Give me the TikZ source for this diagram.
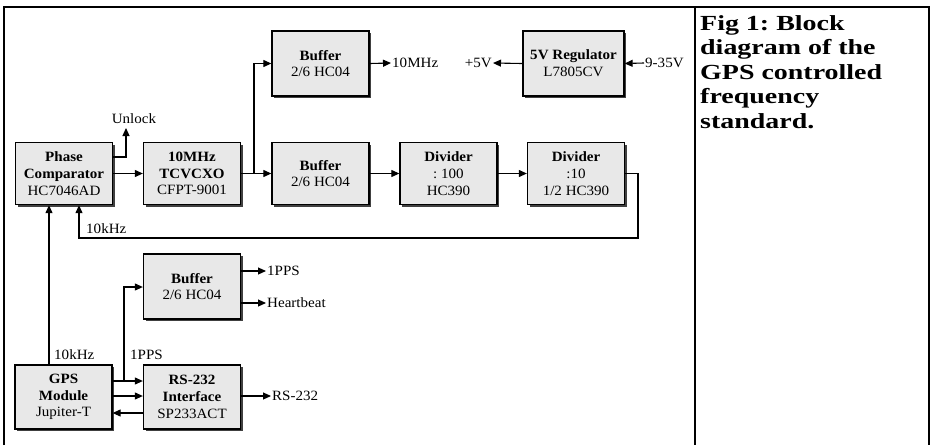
\documentclass[tikz,border=0pt]{standalone}
\usepackage{fontspec}
\setmainfont[FakeStretch=1.06]{Liberation Serif}
\newfontfamily\capfont[FakeStretch=1.3]{Liberation Serif}
\usetikzlibrary{arrows.meta,shadows}
\frenchspacing
\begin{document}
\begin{tikzpicture}[x=1pt,y=-1pt,
  blk/.style={draw, line width=1.3pt, fill=black!9, align=center,
    inner sep=0pt, minimum width=97pt, minimum height=62pt,
    font=\fontsize{14.2}{16.8}\selectfont,
    drop shadow={shadow xshift=2.2pt, shadow yshift=-2.2pt, fill=black!75, opacity=1}},
  tall/.style={minimum height=65pt},
  conn/.style={line width=1.1pt},
  arr/.style={conn, -{Triangle[length=8pt,width=7pt]}},
  lbl/.style={font=\fontsize{14.2}{16}\selectfont, inner sep=1pt},
  frame/.style={line width=2.6pt}
]
\useasboundingbox (0,0) rectangle (932,445);
% frame
\draw[frame] (4,445) -- (4,7) -- (929,7) -- (929,445);
\draw[frame] (695,7) -- (695,445);
% caption
\node[anchor=north west, inner sep=0pt, align=left,
  font=\capfont\bfseries\fontsize{21.5}{24.5}\selectfont] (cap) at (700,15)
  {Fig 1: Block\\diagram of the\\GPS controlled\\frequency\\standard.};

% blocks
\node[blk] (phase) at (64,173.5) {\textbf{Phase}\\\textbf{Comparator}\\HC7046AD};
\node[blk] (tcxo) at (192,173.5) {\textbf{10MHz}\\\textbf{TCVCXO}\\CFPT-9001};
\node[blk,tall] (buf1) at (320.5,63.5) {\textbf{Buffer}\\2/6 HC04};
\node[blk] (buf2) at (320.5,173.5) {\textbf{Buffer}\\2/6 HC04};
\node[blk] (div100) at (448.5,173.5) {\textbf{Divider}\\: 100\\HC390};
\node[blk] (div10) at (576,173.5) {\textbf{Divider}\\:10\\1/2 HC390};
\node[blk,tall,minimum width=101pt] (reg) at (573.5,63.5) {\textbf{5V Regulator}\\L7805CV};
\node[blk,tall] (buf3) at (192,286.5) {\textbf{Buffer}\\2/6 HC04};
\node[blk,minimum height=64pt] (gps) at (63.5,397) {\textbf{GPS}\\\textbf{Module}\\Jupiter-T};
\node[blk,minimum height=64pt] (rs) at (192,397) {\textbf{RS-232}\\\textbf{Interface}\\SP233ACT};

% labels
\node[lbl] (unlock) at (134,119) {Unlock};
\node[lbl, anchor=west] (mhz) at (391,63) {10MHz};
\node[lbl, anchor=east] (p5) at (493,63) {+5V};
\node[lbl, anchor=west] (v935) at (644,63) {9-35V};
\node[lbl, anchor=west] (k1) at (85,229) {10kHz};
\node[lbl, anchor=west] (k2) at (53,355) {10kHz};
\node[lbl, anchor=west] (pps2) at (129,355) {1PPS};
\node[lbl, anchor=west] (pps1) at (266,271) {1PPS};
\node[lbl, anchor=west] (hb) at (266,303) {Heartbeat};
\node[lbl, anchor=west] (rsl) at (271,396) {RS-232};

% coordinates
\coordinate (ub) at (126,157);
\coordinate (ut) at (126,128);
\coordinate (br) at (254,173.5);
\coordinate (fb1) at (638,173.5);
\coordinate (fb2) at (638,238);
\coordinate (fb3) at (79,238);
\coordinate (g1) at (124,381);
\coordinate (g2) at (124,287);

% connectors
\draw[arr] (phase) -- (tcxo);
\draw[arr] (phase.east |- ub) -- (ub) -- (ut);
\draw[arr] (tcxo) -- (buf2);
\draw[arr] (br) |- (buf1.west);
\draw[arr] (buf1.east) -- (mhz.west);
\draw[arr] (buf2) -- (div100);
\draw[arr] (div100) -- (div10);
\draw[arr] (div10.east) -- (fb1) -- (fb2) -- (fb3) -- (fb3 |- phase.south);
\draw[arr] (gps.north -| 49,0) -- (phase.south -| 49,0);
\draw[arr] (reg.west) -- (p5.east);
\draw[arr] (v935.west) -- (reg.east);
\draw[arr] (gps.east |- g1) -- (rs.west |- g1);
\draw[arr] (g1) -- (g2) -- (buf3.west |- g2);
\draw[arr] (gps.east |- 0,396) -- (rs.west |- 0,396);
\draw[arr] (rs.west |- 0,413) -- (gps.east |- 0,413);
\draw[arr] (buf3.east |- pps1) -- (pps1.west);
\draw[arr] (buf3.east |- hb) -- (hb.west);
\draw[arr] (rs.east |- rsl) -- (rsl.west);
\end{tikzpicture}
\end{document}
